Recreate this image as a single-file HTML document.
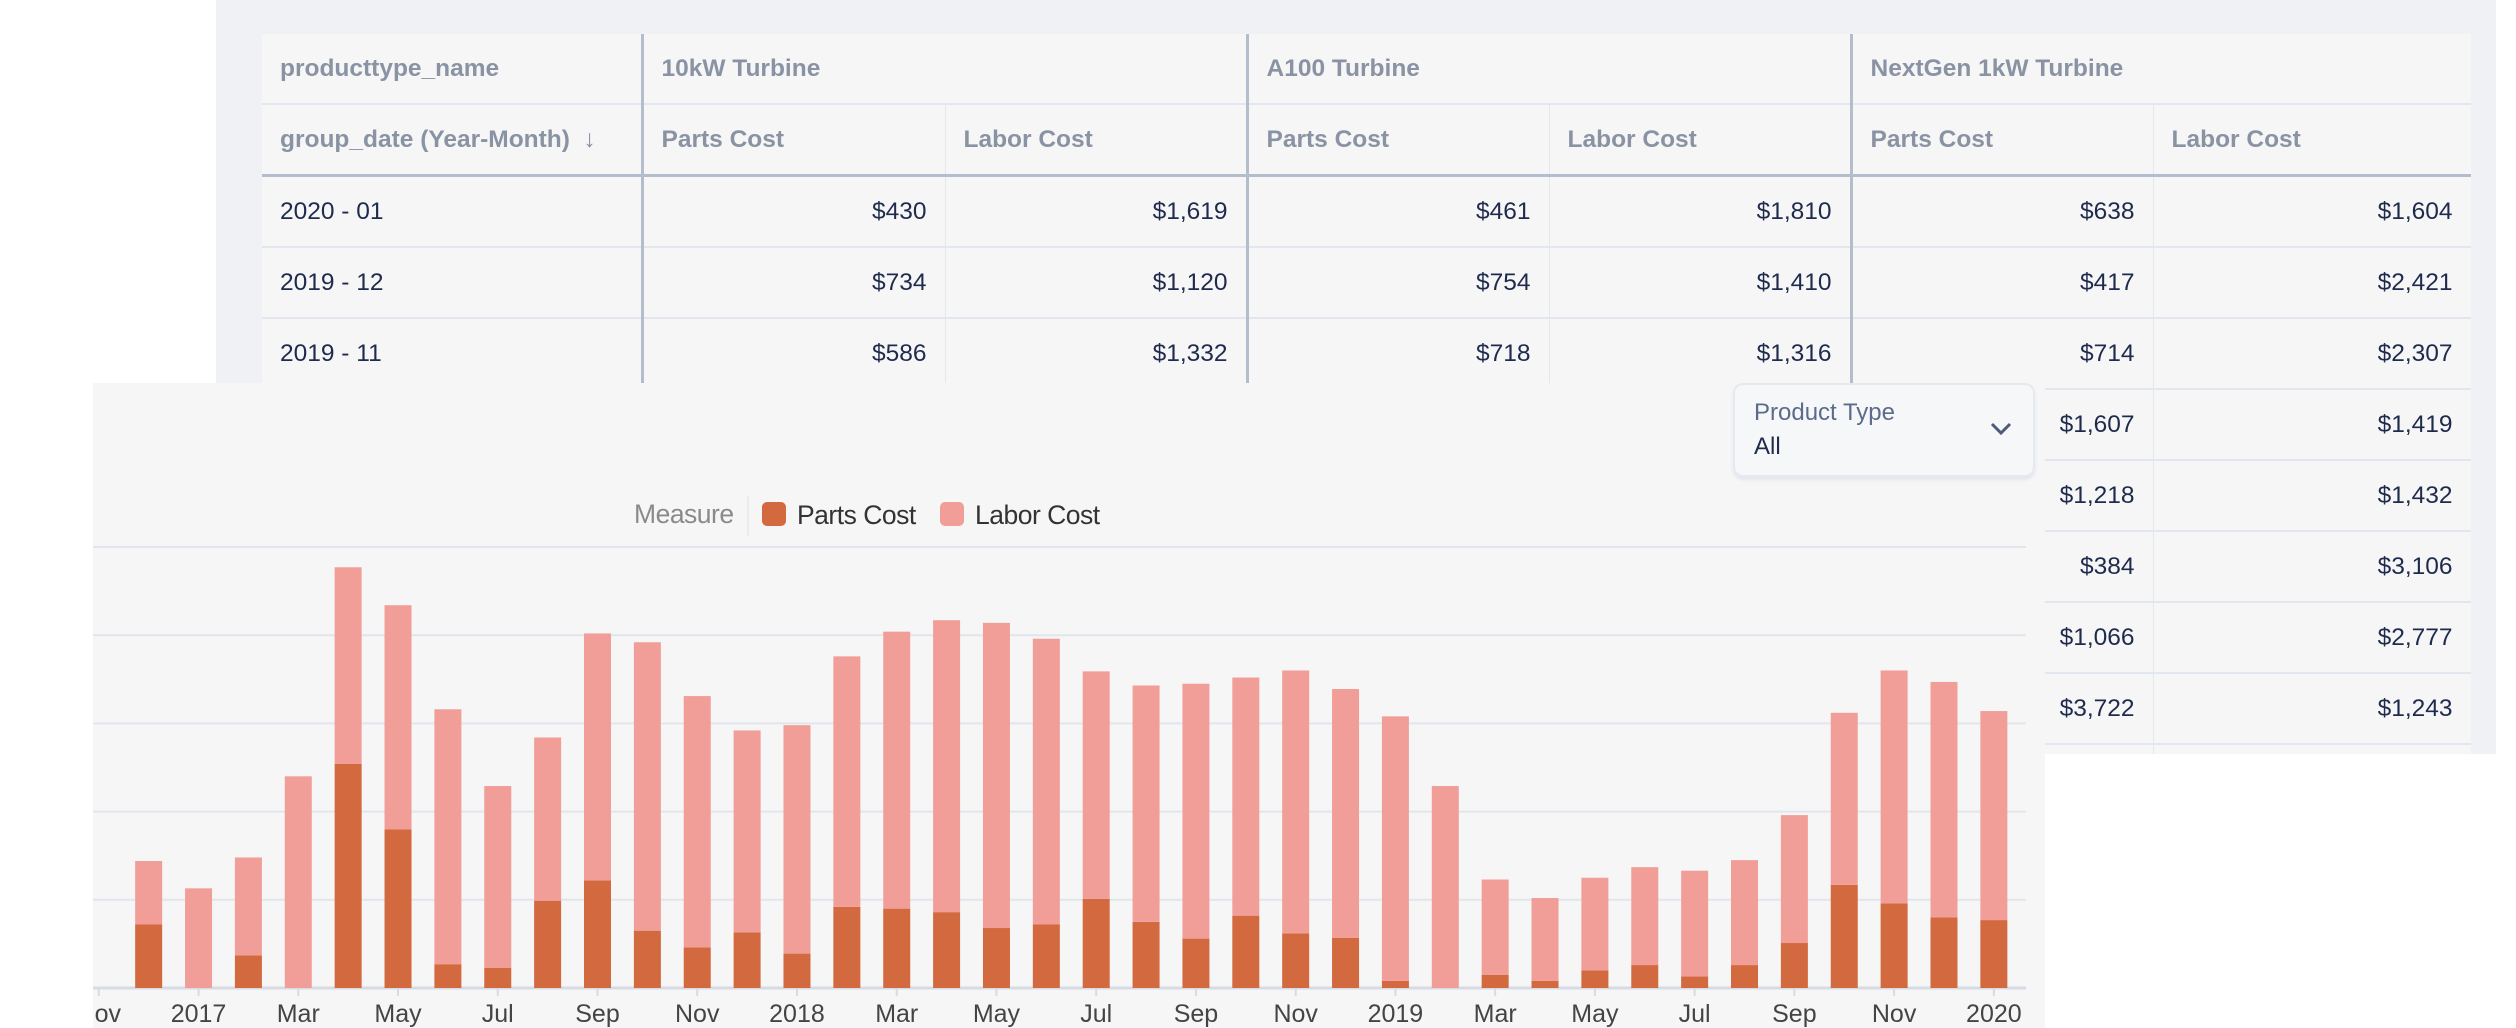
<!DOCTYPE html>
<html><head><meta charset="utf-8">
<style>
body{margin:0;width:2516px;height:1028px;position:relative;overflow:hidden;background:#fff;font-family:"Liberation Sans",sans-serif;}
#panel{position:absolute;left:216px;top:0;width:2280px;height:754px;background:#f0f1f4;}
#tbl{position:absolute;left:262px;top:34px;width:2209px;height:720px;overflow:hidden;background:#f6f6f7;}
table{border-collapse:collapse;table-layout:fixed;width:2209px;}
td,th{height:69px;padding:0 18px;font-size:24.5px;border-bottom:2px solid #e2e6ee;border-right:1px solid #e3e6ee;white-space:nowrap;overflow:hidden;}
th{color:#8a93a3;font-weight:bold;text-align:left;}
td{color:#1f2b4d;text-align:right;}
td.d{text-align:left;}
.tk{border-right:3px solid #b4bdcc;}
tr.h2 th{border-bottom:3px solid #b4bdcc;}
#chart{position:absolute;left:93px;top:383px;width:1952px;height:645px;background:#f6f6f6;overflow:hidden;}
#dd{position:absolute;left:1733px;top:383px;width:298px;height:90px;background:#f6f7f9;border:2px solid #e6e9ef;border-radius:10px;box-shadow:0 3px 3px #e3e7ee;}
</style></head><body>
<div id="panel"></div>
<div id="tbl">
<table>
<colgroup><col style="width:380px"><col style="width:303px"><col style="width:302px"><col style="width:302px"><col style="width:302px"><col style="width:302px"><col style="width:318px"></colgroup>
<tr style="height:70px"><th class="tk">producttype_name</th><th colspan="2" class="tk">10kW Turbine</th><th colspan="2" class="tk">A100 Turbine</th><th colspan="2">NextGen 1kW Turbine</th></tr>
<tr class="h2"><th class="tk">group_date (Year-Month) &nbsp;↓</th><th>Parts Cost</th><th class="tk">Labor Cost</th><th>Parts Cost</th><th class="tk">Labor Cost</th><th>Parts Cost</th><th>Labor Cost</th></tr>
<tr><td class="d tk">2020 - 01</td><td>$430</td><td class="tk">$1,619</td><td>$461</td><td class="tk">$1,810</td><td>$638</td><td>$1,604</td></tr>
<tr><td class="d tk">2019 - 12</td><td>$734</td><td class="tk">$1,120</td><td>$754</td><td class="tk">$1,410</td><td>$417</td><td>$2,421</td></tr>
<tr><td class="d tk">2019 - 11</td><td>$586</td><td class="tk">$1,332</td><td>$718</td><td class="tk">$1,316</td><td>$714</td><td>$2,307</td></tr>
<tr><td class="d tk"></td><td></td><td class="tk"></td><td></td><td class="tk"></td><td>$1,607</td><td>$1,419</td></tr>
<tr><td class="d tk"></td><td></td><td class="tk"></td><td></td><td class="tk"></td><td>$1,218</td><td>$1,432</td></tr>
<tr><td class="d tk"></td><td></td><td class="tk"></td><td></td><td class="tk"></td><td>$384</td><td>$3,106</td></tr>
<tr><td class="d tk"></td><td></td><td class="tk"></td><td></td><td class="tk"></td><td>$1,066</td><td>$2,777</td></tr>
<tr><td class="d tk"></td><td></td><td class="tk"></td><td></td><td class="tk"></td><td>$3,722</td><td>$1,243</td></tr>
<tr><td class="d tk"></td><td></td><td class="tk"></td><td></td><td class="tk"></td><td></td><td></td></tr>
</table></div>
<div id="chart">
<svg id="svg" width="1952" height="645" xmlns="http://www.w3.org/2000/svg"><g id="g" transform="translate(-93,-383)"></g></svg>
</div>
<div id="dd">
<div style="position:absolute;left:19px;top:14px;font-size:24px;color:#5d6b8a;">Product Type</div>
<div style="position:absolute;left:19px;top:48px;font-size:24px;color:#1f2b4d;">All</div>
<svg style="position:absolute;left:254px;top:36px" width="24" height="16"><path d="M3 3 L12 12 L21 3" fill="none" stroke="#4d5a7a" stroke-width="3"/></svg>
</div>
<script>
const months=["Nov","Dec","2017","Feb","Mar","Apr","May","Jun","Jul","Aug","Sep","Oct","Nov","Dec","2018","Feb","Mar","Apr","May","Jun","Jul","Aug","Sep","Oct","Nov","Dec","2019","Feb","Mar","Apr","May","Jun","Jul","Aug","Sep","Oct","Nov","Dec","2020"];
const partsCost=[0,720,0,370,0,2540,1800,270,230,990,1220,650,460,630,390,920,900,860,680,720,1010,750,560,820,620,570,80,0,150,80,200,260,130,260,510,1170,960,800,770];
const laborCost=[0,720,1130,1110,2400,2230,2540,2890,2060,1850,2800,3270,2850,2290,2590,2840,3140,3310,3460,3240,2580,2680,2890,2700,2980,2820,3000,2290,1080,940,1050,1110,1200,1190,1450,1950,2640,2670,2370];
const gridValues=[0,1000,2000,3000,4000,5000];
const NS="http://www.w3.org/2000/svg";
const g=document.getElementById('g');
const x0=98.8,step=49.87,bw=27,yAxis=988,pxPer=0.0882;
const xs=i=>x0+i*step;
const ys=v=>yAxis-v*pxPer;
function mk(t,a){const e=document.createElementNS(NS,t);for(const k in a)e.setAttribute(k,a[k]);g.appendChild(e);return e;}
gridValues.forEach(v=>{
 const l=mk('line',{x1:93,x2:2026,y1:ys(v),y2:ys(v),stroke:v===0?'#d6dbe4':'#e1e5ec','stroke-width':v===0?3:2});
 
 
});
months.forEach((m,i)=>{
 const p=partsCost[i],l=laborCost[i],x=xs(i)-bw/2;
 if(p>0){const r=mk('rect',{x:x,y:ys(p),width:bw,height:yAxis-ys(p),fill:'#d2693f'});
  
  }
 if(l>0){const r=mk('rect',{x:x,y:ys(p+l),width:bw,height:ys(p)-ys(p+l),fill:'#f19e99'});
  
  }
 if(i%2===0){
  mk('line',{x1:xs(i),x2:xs(i),y1:989,y2:996,stroke:'#d6dbe4','stroke-width':2});
  const t=mk('text',{x:xs(i),y:1022,'text-anchor':'middle','font-size':25,fill:'#444','font-family':'Liberation Sans, sans-serif'});
  t.textContent=m;
  
  
 }
});
function txt(x,y,s,c,n){const t=mk('text',{x:x,y:y,'font-size':26.5,fill:c,'font-family':'Liberation Sans, sans-serif','letter-spacing':-0.5});t.textContent=s;
 
 }
txt(634,523,'Measure','#8a8a8a','legend-title');
mk('line',{x1:748,x2:748,y1:496,y2:536,stroke:'#ececec','stroke-width':2});
const s1=mk('rect',{x:762,y:502,width:24,height:24,rx:5,fill:'#d2693f'});


txt(797,524,'Parts Cost','#333','legend-parts-cost');
const s2=mk('rect',{x:940,y:502,width:24,height:24,rx:5,fill:'#f19e99'});


txt(975,524,'Labor Cost','#333','legend-labor-cost');
</script>
</body></html>
